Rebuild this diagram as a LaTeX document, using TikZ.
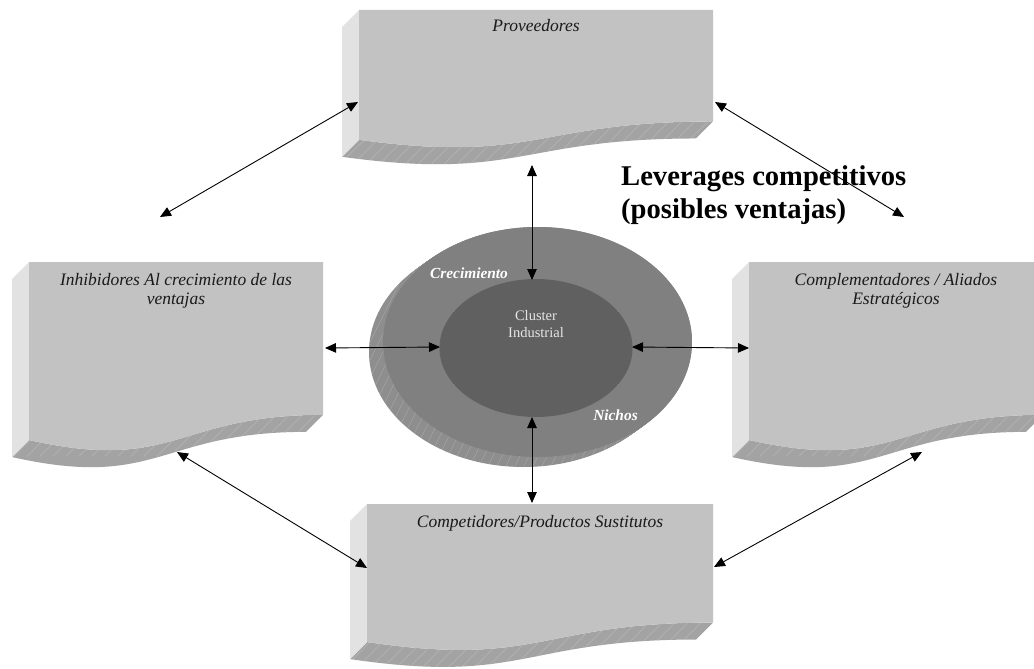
\documentclass[tikz,border=0pt]{standalone}
\usepackage{fontspec}
\setmainfont{Liberation Serif}
\usetikzlibrary{arrows.meta}

\definecolor{facegray}{HTML}{C2C2C2}
\definecolor{sidegray}{HTML}{E2E2E2}
\definecolor{basegray}{HTML}{A3A3A3}
\definecolor{hatchgray}{HTML}{BDBDBD}
\definecolor{ringgray}{HTML}{808080}
\definecolor{coregray}{HTML}{606060}
\definecolor{rimgray}{HTML}{8E8E8E}
\definecolor{rimhatch}{HTML}{ABABAB}
\definecolor{inkgray}{HTML}{1A1A1A}

% Extruded "document" block: #1 left x, #2 right x, #3 top y, #4 full height
\newcommand\docblock[4]{%
  \pgfmathsetmacro\xa{#1}\pgfmathsetmacro\xb{#2}%
  \pgfmathsetmacro\ya{#3}\pgfmathsetmacro\hh{#4}%
  \pgfmathsetmacro\xm{0.5*(\xa+\xb)}%
  \pgfmathsetmacro\yR{\ya+0.802*\hh}%
  \pgfmathsetmacro\yL{\ya+0.934*\hh}%
  \pgfmathsetmacro\yC{\ya+1.1075*\hh}%
  % bottom face
  \fill[basegray] (\xb,\yR) .. controls (\xm,\yR) and (\xm,\yC) .. (\xa,\yL)
    -- ++(-17,17) .. controls (\xm-17,\yC+17) and (\xm-17,\yR+17) .. (\xb-17,\yR+17) -- cycle;
  \begin{scope}
    \clip (\xb,\yR) .. controls (\xm,\yR) and (\xm,\yC) .. (\xa,\yL)
      -- ++(-17,17) .. controls (\xm-17,\yC+17) and (\xm-17,\yR+17) .. (\xb-17,\yR+17) -- cycle;
    \foreach \t in {0,13,...,400}{
      \draw[hatchgray, line width=0.4pt] (\xa+\t,\ya+0.6*\hh) -- ++(-80,80);
    }
  \end{scope}
  % left face
  \fill[sidegray] (\xa,\ya) -- ++(-17,17) -- (\xa-17,\yL+17) -- (\xa,\yL) -- cycle;
  % front face
  \fill[facegray] (\xa,\ya) -- (\xb,\ya) -- (\xb,\yR)
    .. controls (\xm,\yR) and (\xm,\yC) .. (\xa,\yL) -- cycle;
}

\tikzset{
  boxlabel/.style={inner sep=0pt, text=inkgray, align=center, anchor=base,
    font=\fontsize{17.5}{19.5}\selectfont\itshape},
  disclabel/.style={inner sep=0pt, text=white, anchor=base,
    font=\fontsize{15.4}{18}\selectfont\bfseries\itshape},
  link/.style={line width=0.9pt, black,
    {Triangle[length=11pt,width=9.5pt]}-{Triangle[length=11pt,width=9.5pt]}}
}

\begin{document}
\begin{tikzpicture}[x=1pt,y=-1pt]
\clip (0,0) rectangle (1034,669);
\fill[white] (0,0) rectangle (1034,669);

% the four extruded blocks
\docblock{359}{713}{10}{139}
\docblock{29}{323}{262}{190.6}
\docblock{749}{1043}{262}{190.6}
\docblock{367}{713}{504}{147.8}

% the disc: rim, outer ring, core
\foreach \k in {0,1,...,15}{
  \fill[rimgray] ({537.5-14*\k/15},{342+10*\k/15}) ellipse [x radius=154.5pt, y radius=115pt];
}
\begin{scope}
  \clip (523.5,352) ellipse [x radius=154.5pt, y radius=115pt];
  \foreach \t in {0,9,...,420}{
    \draw[rimhatch, line width=0.4pt] (360+\t,200) -- ++(-150,300);
  }
\end{scope}
\fill[ringgray] (537.5,342) ellipse [x radius=154.5pt, y radius=115pt];
\fill[coregray] (536,348) ellipse [x radius=96.5pt, y radius=69pt];

% labels (base anchor of a multi-line node sits on its last line)
\node[boxlabel] (prov) at (536,32) {Proveedores};
\node[boxlabel] (inhib) at (176,304.5) {Inhibidores Al crecimiento de las\\ventajas};
\node[boxlabel] (compl) at (896,304.5) {Complementadores / Aliados\\Estratégicos};
\node[boxlabel] (compet) at (540,527) {Competidores/Productos Sustitutos};
\node[inner sep=0pt, anchor=base, align=center, text=white!90!black,
  font=\fontsize{14.5}{17.3}\selectfont] (cluster) at (536,337.3) {Cluster\\Industrial};
\node[disclabel] (crec) at (469,278) {Crecimiento};
\node[disclabel] (nich) at (615.5,420.5) {Nichos};
\node[inner sep=0pt, anchor=base west, align=left, text=black,
  font=\fontsize{28.6}{33}\selectfont\bfseries] (lever) at (621,218)
  {Leverages competitivos\\(posibles ventajas)};

% connector end points
\coordinate (provW) at (358,102);
\coordinate (freeW) at (160,217);
\coordinate (provE) at (715,102);
\coordinate (freeE) at (904,217);
\coordinate (provS) at (532,165);
\coordinate (coreN) at (532,280);
\coordinate (inhibE) at (325,348);
\coordinate (coreW) at (440,347);
\coordinate (coreE) at (632,347);
\coordinate (complW) at (749,348);
\coordinate (coreS) at (532,417);
\coordinate (competN) at (532,503);
\coordinate (inhibS) at (177,452);
\coordinate (competW) at (367,568);
\coordinate (complS) at (922,452);
\coordinate (competE) at (714,567);

% connectors
\draw[link] (freeW) -- (provW);
\draw[link] (provE) -- (freeE);
\draw[link] (provS) -- (coreN);
\draw[link] (inhibE) -- (coreW);
\draw[link] (coreE) -- (complW);
\draw[link] (coreS) -- (competN);
\draw[link] (inhibS) -- (competW);
\draw[link] (complS) -- (competE);
\end{tikzpicture}
\end{document}
